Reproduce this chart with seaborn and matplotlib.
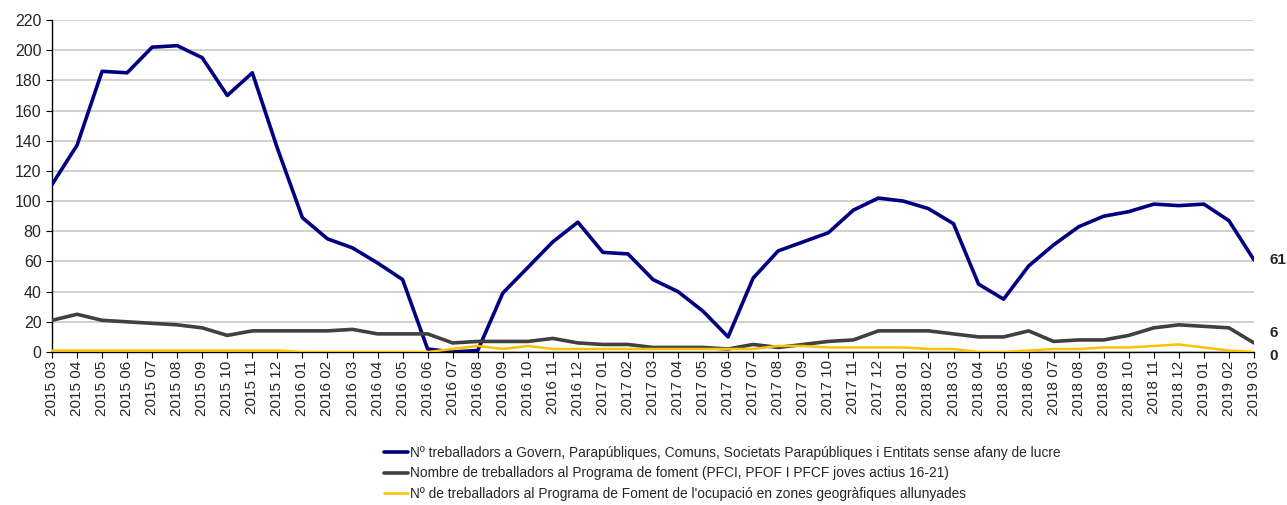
import numpy as np
import pandas as pd
import matplotlib
matplotlib.use("Agg")
import matplotlib.pyplot as plt
import seaborn as sns

months = ["2015 03", "2015 04", "2015 05", "2015 06", "2015 07", "2015 08", "2015 09", "2015 10", "2015 11", "2015 12",
          "2016 01", "2016 02", "2016 03", "2016 04", "2016 05", "2016 06", "2016 07", "2016 08", "2016 09", "2016 10",
          "2016 11", "2016 12", "2017 01", "2017 02", "2017 03", "2017 04", "2017 05", "2017 06", "2017 07", "2017 08",
          "2017 09", "2017 10", "2017 11", "2017 12", "2018 01", "2018 02", "2018 03", "2018 04", "2018 05", "2018 06",
          "2018 07", "2018 08", "2018 09", "2018 10", "2018 11", "2018 12", "2019 01", "2019 02", "2019 03"]

govern = [111, 137, 186, 185, 202, 203, 195, 170, 185, 135,
          89, 75, 69, 59, 48, 2, 0, 1, 39, 56,
          73, 86, 66, 65, 48, 40, 27, 10, 49, 67,
          73, 79, 94, 102, 100, 95, 85, 45, 35, 57,
          71, 83, 90, 93, 98, 97, 98, 87, 61]

foment = [21, 25, 21, 20, 19, 18, 16, 11, 14, 14,
          14, 14, 15, 12, 12, 12, 6, 7, 7, 7,
          9, 6, 5, 5, 3, 3, 3, 2, 5, 3,
          5, 7, 8, 14, 14, 14, 12, 10, 10, 14,
          7, 8, 8, 11, 16, 18, 17, 16, 6]

zones = [1, 1, 1, 1, 1, 1, 1, 1, 1, 1,
         0, 0, 0, 0, 0, 0, 2, 4, 2, 4,
         2, 2, 2, 2, 2, 2, 2, 2, 2, 4,
         4, 3, 3, 3, 3, 2, 2, 0, 0, 1,
         2, 2, 3, 3, 4, 5, 3, 1, 0]

series_names = [
    "Nº treballadors a Govern, Parapúbliques, Comuns, Societats Parapúbliques i Entitats sense afany de lucre",
    "Nombre de treballadors al Programa de foment (PFCI, PFOF I PFCF joves actius 16-21)",
    "Nº de treballadors al Programa de Foment de l'ocupació en zones geogràfiques allunyades",
]
colors = ["#000080", "#404040", "#FFC000"]
widths = [2.6, 2.6, 1.8]

sns.set_style("white")
plt.rcParams['font.family'] = ['Liberation Sans', 'DejaVu Sans']

fig = plt.figure(figsize=(12.87, 5.05), dpi=100)
ax = fig.add_axes([52/1287, 1-352/505, (1254-52)/1287, (352-20)/505])

x = np.arange(len(months))
all_series = [govern, foment, zones]
for name, vals, c, w in zip(series_names, all_series, colors, widths):
    df = pd.DataFrame({"x": x, "y": vals})
    sns.lineplot(data=df, x="x", y="y", ax=ax, color=c, linewidth=w, label=name, zorder=3)

ax.set_xlim(0, len(months)-1)
ax.set_ylim(0, 220)
ax.set_yticks(np.arange(0, 221, 20))
ax.set_xticks(x)
ax.set_xticklabels(months, rotation=90, fontsize=11)
ax.tick_params(axis='y', labelsize=11.5, length=4, color='black', direction='out', left=True)
ax.tick_params(axis='x', length=4, color='black', direction='out', bottom=True, pad=2)
ax.set_xlabel("")
ax.set_ylabel("")
ax.grid(axis='y', color='#C8C8C8', linewidth=1.2)
ax.set_axisbelow(True)
for s in ["top", "right"]:
    ax.spines[s].set_visible(False)
for s in ["left", "bottom"]:
    ax.spines[s].set_color("black")
    ax.spines[s].set_linewidth(1)

# end labels (small vertical offsets to keep them apart)
label_dy = [0, 7, -3]
for vals, dy in zip(all_series, label_dy):
    ax.annotate(str(vals[-1]), xy=(x[-1], vals[-1]), xytext=(11, dy), textcoords='offset points',
                ha='left', va='center', fontsize=11, fontweight='bold', annotation_clip=False)

ax.get_legend().remove()
handles, labels = ax.get_legend_handles_labels()
leg = fig.legend(handles, labels, loc='upper left', bbox_to_anchor=(378/1287, 1-440/505),
                 frameon=False, fontsize=9.9, handlelength=1.8, handletextpad=0.1,
                 labelspacing=0.5, borderaxespad=0)

fig.savefig("out.png", dpi=100)
